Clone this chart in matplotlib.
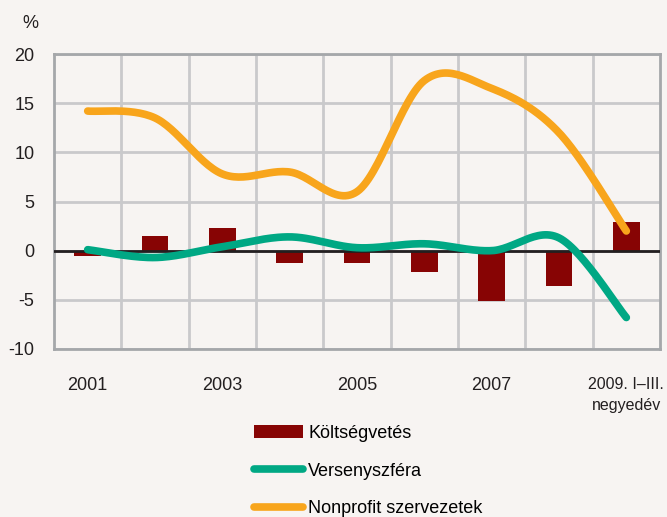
import numpy as np
import matplotlib
matplotlib.use("Agg")
import matplotlib.pyplot as plt
from matplotlib.patches import Patch
from matplotlib.lines import Line2D

# Data
categories = ["2001", "2002", "2003", "2004", "2005", "2006", "2007", "2008",
              "2009. I\u2013III.\nnegyedév"]
tick_labels = ["2001", "", "2003", "", "2005", "", "2007", "", "2009. I\u2013III.\nnegyedév"]
koltsegvetes = [-0.5, 1.5, 2.3, -1.3, -1.3, -2.2, -5.1, -3.6, 2.9]
versenyszfera = [0.1, -0.7, 0.4, 1.4, 0.3, 0.7, 0.0, 1.3, -6.8]
nonprofit = [14.2, 13.5, 7.8, 8.0, 6.0, 17.3, 16.5, 12.0, 2.0]

labels = ["Költségvetés", "Versenyszféra", "Nonprofit szervezetek"]
c_bar = "#870404"
c_green = "#00a884"
c_orange = "#f8a51c"
bg = "#f7f4f2"

plt.rcParams['font.family'] = ['Liberation Sans Narrow', 'Liberation Sans', 'DejaVu Sans']
plt.rcParams['axes.unicode_minus'] = False


def smooth(xs, ys, n=30):
    # Excel-like smoothed line: Catmull-Rom through the points
    xs = np.asarray(xs, float)
    ys = np.asarray(ys, float)
    px = np.concatenate([[xs[0]], xs, [xs[-1]]])
    py = np.concatenate([[ys[0]], ys, [ys[-1]]])
    outx, outy = [], []
    t = np.linspace(0, 1, n)
    for i in range(1, len(px) - 2):
        p0x, p1x, p2x, p3x = px[i - 1], px[i], px[i + 1], px[i + 2]
        p0y, p1y, p2y, p3y = py[i - 1], py[i], py[i + 1], py[i + 2]
        b1x = p1x + (p2x - p0x) / 6
        b1y = p1y + (p2y - p0y) / 6
        b2x = p2x - (p3x - p1x) / 6
        b2y = p2y - (p3y - p1y) / 6
        bx = (1-t)**3*p1x + 3*(1-t)**2*t*b1x + 3*(1-t)*t**2*b2x + t**3*p2x
        by = (1-t)**3*p1y + 3*(1-t)**2*t*b1y + 3*(1-t)*t**2*b2y + t**3*p2y
        outx.extend(bx)
        outy.extend(by)
    return np.array(outx), np.array(outy)


fig = plt.figure(figsize=(6.67, 5.17), dpi=100, facecolor=bg)
ax = fig.add_axes([0.081, 0.325, 0.9085, 0.5705])
ax.set_facecolor(bg)

x = np.arange(len(categories))
ax.bar(x, koltsegvetes, width=0.4, color=c_bar, zorder=2)
ax.axhline(0, color="#231f20", lw=2, zorder=3)

gx, gy = smooth(x, versenyszfera)
ax.plot(gx, gy, color=c_green, lw=5.5, solid_capstyle="round", zorder=4)
ox, oy = smooth(x, nonprofit)
ax.plot(ox, oy, color=c_orange, lw=5.5, solid_capstyle="round", zorder=5)

ax.set_xlim(-0.5, len(categories) - 0.5)
ax.set_ylim(-10, 20)
ax.set_yticks(range(-10, 21, 5))
ax.set_xticks(x)
ax.set_xticklabels(tick_labels)
ax.set_xticks(np.arange(0.5, len(categories) - 0.5, 1), minor=True)
ax.grid(False)
ax.grid(True, which="minor", axis="x", color="#c9c9cb", lw=2, zorder=0)
ax.grid(True, which="major", axis="y", color="#c9c9cb", lw=2, zorder=0)
ax.tick_params(axis="both", which="both", length=0, labelsize=13, colors="#231f20")
ax.tick_params(axis="x", pad=20)
ax.tick_params(axis="y", pad=14)
last = ax.get_xticklabels()[-1]
last.set_fontsize(11.5)
last.set_linespacing(1.5)
for s in ax.spines.values():
    s.set_color("#a5a7aa")
    s.set_linewidth(2)

fig.text(0.045, 0.955, "%", fontsize=13, ha="center", va="center", color="#231f20")

handles = [Patch(facecolor=c_bar, edgecolor="none"),
           Line2D([], [], color=c_green, lw=5.5, solid_capstyle="round"),
           Line2D([], [], color=c_orange, lw=5.5, solid_capstyle="round")]
fig.legend(handles, labels, loc="upper left", bbox_to_anchor=(0.37, 0.192),
           frameon=False, fontsize=13, handlelength=2.7, handletextpad=0.3,
           labelspacing=1.15, borderaxespad=0)

fig.savefig("out.png", dpi=100, facecolor=bg)
